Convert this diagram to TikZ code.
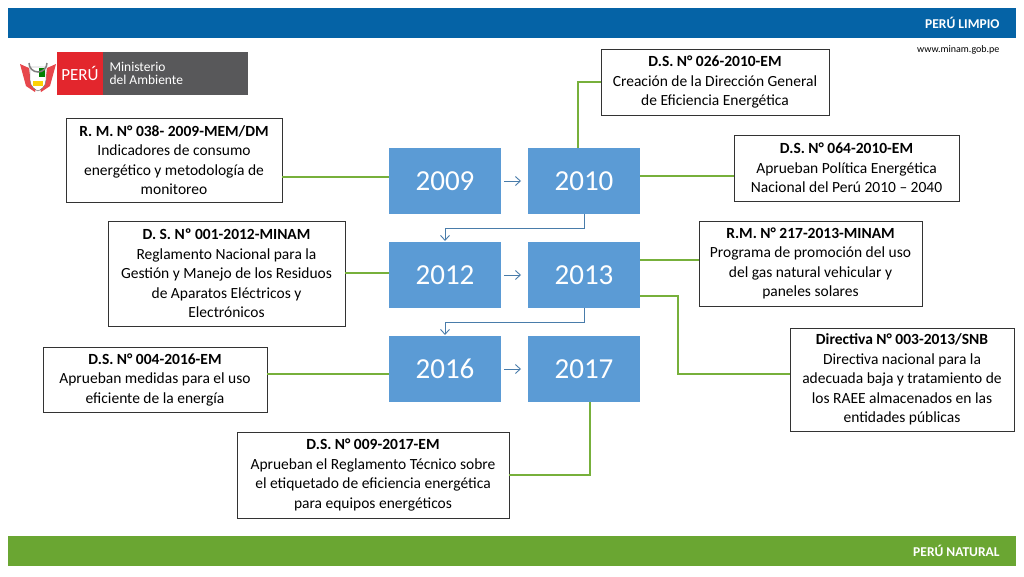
\documentclass[tikz,border=0pt]{standalone}
\usepackage{fontspec}
\setmainfont{Carlito}
\usetikzlibrary{arrows.meta}
\definecolor{hblue}{HTML}{0563A6}
\definecolor{yblue}{HTML}{5B9BD5}
\definecolor{lgreen}{HTML}{77B03B}
\definecolor{fgreen}{HTML}{6AA632}
\definecolor{pred}{HTML}{E3262D}
\definecolor{mgray}{HTML}{58585A}
\tikzset{
  year/.style={fill=yblue,text=white,minimum width=112pt,minimum height=66pt,inner sep=0,font=\fontsize{29}{29}\selectfont},
  info/.style={draw=black!80,line width=0.8pt,fill=white,align=center,inner sep=1pt,font=\fontsize{15.5}{19.5}\selectfont},
  conn/.style={lgreen,line width=2.2pt},
  flow/.style={yblue!80!black,line width=0.9pt,-{Straight Barb[length=5pt,width=9pt]}}
}
\begin{document}
\begin{tikzpicture}[x=1pt,y=-1pt]
\useasboundingbox (0,0) rectangle (1024,576);
\fill[white] (0,0) rectangle (1024,576);
% header / footer
\fill[hblue] (8,8) rectangle (1016,38);
\node[text=white,font=\bfseries\fontsize{13.5}{13}\selectfont,anchor=east] (hl) at (1003,23) {PERÚ LIMPIO};
\node[font=\fontsize{10}{10}\selectfont,anchor=east] (web) at (1003,50) {www.minam.gob.pe};
\fill[fgreen] (8,536) rectangle (1016,566);
\node[text=white,font=\bfseries\fontsize{13.5}{13}\selectfont,anchor=east] (fl) at (1003,551) {PERÚ NATURAL};
% logo
\fill[pred] (57,52) rectangle (103,95);
\fill[mgray] (103,52) rectangle (248,95);
\node[text=white,font=\fontsize{17}{17}\selectfont] (peru) at (80,73.5) {PERÚ};
\node[text=white,anchor=west,align=left,font=\fontsize{13.5}{12.5}\selectfont] (min) at (106,73.5) {Ministerio\\del Ambiente};
\fill[pred!85] (20,64) -- (29,68) -- (31,84) -- (36,88) -- (35,92) -- (26,86) -- cycle;
\fill[pred!85] (56,64) -- (47,68) -- (45,84) -- (40,88) -- (41,92) -- (50,86) -- cycle;
\draw[black!60,fill=white] (30,67) -- (46,67) -- (46,80) .. controls (46,87) and (40,90) .. (38,91) .. controls (36,90) and (30,87) .. (30,80) -- cycle;
\fill[green!50!black] (39,68) rectangle (45,77);
\fill[yellow!70!orange] (33,81) rectangle (43,86);
\draw[black!50,line width=1.5pt] (29,63) arc (180:0:9);
% year boxes
\node[year] (y09) at (445,181) {2009};
\node[year] (y10) at (584,181) {2010};
\node[year] (y12) at (445,275) {2012};
\node[year] (y13) at (584,275) {2013};
\node[year] (y16) at (445,369) {2016};
\node[year] (y17) at (584,369) {2017};
\draw[flow] (504,181) -- (521,181);
\draw[flow] (504,275) -- (521,275);
\draw[flow] (504,369) -- (521,369);
\coordinate (e1a) at (584,228); \coordinate (e1b) at (445,228);
\draw[flow] (y10.south) -- (e1a) -- (e1b) -- (445,241);
\coordinate (e2a) at (584,322); \coordinate (e2b) at (445,322);
\draw[flow] (y13.south) -- (e2a) -- (e2b) -- (445,335);
% info boxes
\node[info,minimum width=216pt,minimum height=84pt] (A) at (174,160) {\textbf{R. M. N° 038- 2009-MEM/DM}\\Indicadores de consumo\\energético y metodología de\\monitoreo};
\node[info,minimum width=228pt,minimum height=66pt] (B) at (715,82) {\textbf{D.S. N° 026-2010-EM}\\Creación de la Dirección General\\de Eficiencia Energética};
\node[info,minimum width=225pt,minimum height=66pt] (C) at (846.5,168) {\textbf{D.S. N° 064-2010-EM}\\Aprueban Política Energética\\Nacional del Perú 2010 – 2040};
\node[info,minimum width=237pt,minimum height=105pt] (D) at (226.5,273.5) {\textbf{D. S. Nº 001-2012-MINAM}\\Reglamento Nacional para la\\Gestión y Manejo de los Residuos\\de Aparatos Eléctricos y\\Electrónicos};
\node[info,minimum width=223pt,minimum height=85pt] (E) at (810.5,263.5) {\textbf{R.M. N° 217-2013-MINAM}\\Programa de promoción del uso\\del gas natural vehicular y\\paneles solares};
\node[info,minimum width=224pt,minimum height=103pt] (F) at (902,379.5) {\textbf{Directiva N° 003-2013/SNB}\\Directiva nacional para la\\adecuada baja y tratamiento de\\los RAEE almacenados en las\\entidades públicas};
\node[info,minimum width=224pt,minimum height=65pt] (G) at (155,379.5) {\textbf{D.S. N° 004-2016-EM}\\Aprueban medidas para el uso\\eficiente de la energía};
\node[info,minimum width=272pt,minimum height=86pt] (H) at (373,475) {\textbf{D.S. N° 009-2017-EM}\\Aprueban el Reglamento Técnico sobre\\el etiquetado de eficiencia energética\\para equipos energéticos};
% connectors
\draw[conn] (A.east |- 0,177) -- (y09.west |- 0,177);
\draw[conn] (578,148) -- (578,82) -- (B.west);
\draw[conn] (640,176) -- (C.west |- 0,176);
\draw[conn] (D.east |- 0,273) -- (y12.west |- 0,273);
\draw[conn] (640,260) -- (E.west |- 0,260);
\draw[conn] (640,296) -- (678,296) -- (678,374) -- (F.west |- 0,374);
\draw[conn] (G.east |- 0,374) -- (y16.west |- 0,374);
\draw[conn] (590,402) -- (590,475) -- (H.east);
\end{tikzpicture}
\end{document}
